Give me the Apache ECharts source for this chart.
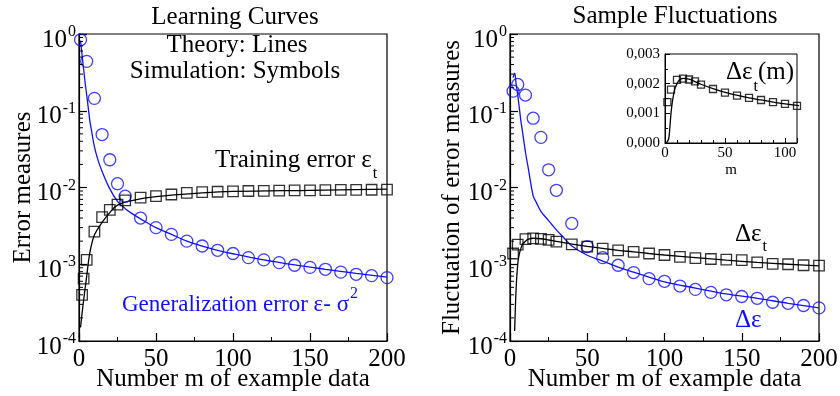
<!DOCTYPE html>
<html><head><meta charset="utf-8">
<script src="https://cdn.jsdelivr.net/npm/echarts@6/dist/echarts.min.js"></script>
<style>html,body{margin:0;padding:0;background:#fff}#c{width:840px;height:396px}</style>
</head><body><div id="c"></div>
<script>
// ---- Left panel: learning curves ----
const genM   = [1,5,10,15,20,25,30,40,50,60,70,80,90,100,110,120,130,140,150,160,170,180,190,200];
const genV   = [0.84,0.44,0.145,0.049,0.023,0.0112,0.0077,0.0040,0.0030,0.00245,0.0020,0.00173,0.00152,0.00138,0.00122,0.00114,0.00105,0.00097,0.00091,0.00086,0.00079,0.00074,0.00071,0.00067];
const trainM = [2,3,5,10,15,20,25,30,40,50,60,70,80,90,100,110,120,130,140,150,160,170,180,190,200];
const trainV = [0.00040,0.00065,0.00114,0.00266,0.0041,0.0051,0.0060,0.0068,0.0074,0.0077,0.0081,0.0085,0.0087,0.0088,0.0089,0.0090,0.00905,0.0091,0.00915,0.0092,0.00925,0.0093,0.0093,0.00935,0.0094];
const thGenM = [1,2,3,4,5,6,7,8,10,12,15,20,25,30,35,40,50,60,70,80,90,100,120,140,160,180,200];
const thGenV = [0.82,0.53,0.35,0.23,0.16,0.11,0.075,0.057,0.034,0.024,0.0162,0.0096,0.0066,0.0053,0.0045,0.0039,0.0030,0.00245,0.0020,0.00172,0.00152,0.00137,0.00114,0.00098,0.00086,0.00076,0.00068];
const thTrainM = [1,2,3,5,7,10,15,20,25,35,50,80,100,150,200];
const thTrainV = [0.00015,0.00023,0.00034,0.0007,0.0014,0.0024,0.0035,0.0047,0.0059,0.0068,0.0076,0.0085,0.0089,0.0092,0.0095];
// ---- Right panel: sample fluctuations ----
const dM  = [2,5,10,15,20,25,30,40,50,60,70,80,90,100,110,120,130,140,150,160,170,180,190,200];
const dV  = [0.18,0.22,0.16,0.080,0.045,0.017,0.0092,0.0034,0.0017,0.00122,0.00097,0.00078,0.00065,0.00060,0.00052,0.00047,0.00043,0.00040,0.00038,0.00036,0.00032,0.00031,0.00029,0.00027];
const dtM = [2,5,10,15,20,25,30,40,50,60,70,80,90,100,110,120,130,140,150,160,170,180,190,200];
const dtV = [0.00138,0.00180,0.00213,0.00217,0.00214,0.00208,0.00197,0.00182,0.00170,0.00160,0.00152,0.00145,0.00138,0.00132,0.00125,0.00120,0.00117,0.00115,0.00113,0.00106,0.00101,0.00100,0.00097,0.00096];
const thDM = [2,3,4,5,6,7,8,10,12,15,17,20,25,30,35,40,50,60,70,80,90,100,120,140,160,180,200];
const thDV = [0.27,0.31,0.22,0.16,0.11,0.075,0.055,0.029,0.017,0.0078,0.0064,0.0049,0.0037,0.0028,0.0022,0.00173,0.00131,0.00110,0.00092,0.00079,0.00068,0.00059,0.00049,0.00041,0.00036,0.00031,0.00027];
const thDtM = [1,3,4,5,6,7,8,10,12,15,20,25,30,40,50,60,70,80,90,100,120,140,160,180,200];
const thDtV = [0,0.000135,0.0005,0.00100,0.00135,0.0016,0.0018,0.0020,0.00212,0.00218,0.00215,0.00207,0.00198,0.00183,0.00171,0.00161,0.00152,0.00145,0.00138,0.00132,0.00122,0.00113,0.00106,0.00100,0.00095];
// ---- tick values ----
const logDecades = [1e-4,1e-3,1e-2,1e-1];
const logMinor = [];
logDecades.forEach(d=>{for(let k=2;k<=9;k++) logMinor.push(+(k*d).toPrecision(3));});

const FONT = 'Liberation Serif';
const FS = 25;
const BLUE = '#1010ff';
const pairs = (m,v,filterPos) => m.map((x,i)=>[x,v[i]]).filter(p=>!filterPos || p[1]>0);

function logLabel(v){
  const e = Math.round(Math.log10(v));
  return '{b|10}{s|' + e + '}';
}
const logRich = {
  b:{fontFamily:FONT,fontSize:FS,color:'#000',lineHeight:40,verticalAlign:'top',padding:[13.5,0,0,0]},
  s:{fontFamily:FONT,fontSize:16,color:'#000',lineHeight:40,verticalAlign:'top',padding:[10,0,0,1]}
};

function xAx(gi){
  return {type:'value',gridIndex:gi,min:0,max:200,interval:50,
    axisLine:{show:true,lineStyle:{color:'#000',width:1.2}},
    axisTick:{show:true,inside:true,length:8,lineStyle:{color:'#000',width:1.2}},
    minorTick:{show:true,splitNumber:2,length:4,lineStyle:{color:'#000',width:1}},
    splitLine:{show:false},
    axisLabel:{fontFamily:FONT,fontSize:FS,color:'#000',margin:6},
    name:'Number m of example data',nameLocation:'middle',nameGap:26,nameMoveOverlap:false,
    nameTextStyle:{fontFamily:FONT,fontSize:FS,color:'#000'}};
}
function yAx(gi,name,gap){
  return {type:'log',logBase:10,gridIndex:gi,min:1e-4,max:1,
    axisLine:{show:true,lineStyle:{color:'#000',width:1.2}},
    axisTick:{show:true,inside:true,length:8,lineStyle:{color:'#000',width:1.2}},
    splitLine:{show:false},
    axisLabel:{formatter:logLabel,rich:logRich,margin:3},
    name:name,nameLocation:'middle',nameGap:gap,nameMoveOverlap:false,
    nameTextStyle:{fontFamily:FONT,fontSize:FS,color:'#000'}};
}
function minorSeries(gi){
  return {type:'custom',xAxisIndex:gi,yAxisIndex:gi,silent:true,z:10,
    data:logMinor.map(v=>[0,v]),
    renderItem:function(params,api){
      const p = api.coord([0,api.value(1)]);
      return {type:'line',shape:{x1:p[0],y1:p[1],x2:p[0]+4,y2:p[1]},style:{stroke:'#000',lineWidth:1}};
    }};
}
function lineS(gi,data,color){
  return {type:'line',xAxisIndex:gi,yAxisIndex:gi,data:data,showSymbol:false,smooth:0.35,
    lineStyle:{color:color,width:1.3},silent:true,z:3};
}
function scat(gi,data,sym,size,color){
  return {type:'scatter',xAxisIndex:gi,yAxisIndex:gi,data:data,symbol:sym,symbolSize:size,
    itemStyle:{color:'rgba(0,0,0,0)',borderColor:color,borderWidth:1.3},silent:true,z:4};
}

const chart = echarts.init(document.getElementById('c'),null,{renderer:'canvas'});
const txt = (o)=>({type:'text',silent:true,z:100,style:Object.assign({fontFamily:FONT,fontSize:FS,fill:'#000'},o)});
// rich text helper: base token 'a', sub/superscript token 's', both top-aligned with explicit offsets
function richTxt(text,x,y,color,padA,padS,fsA){
  const fa = fsA || FS;
  return txt({text:text,x:x,y:y,textAlign:'left',textVerticalAlign:'top',fill:color,fontSize:fa,
    rich:{a:{fontFamily:FONT,fontSize:fa,lineHeight:48,verticalAlign:'top',padding:[padA,0,0,0],fill:color},
          s:{fontFamily:FONT,fontSize:16,lineHeight:48,verticalAlign:'top',padding:[padS,0,0,1],fill:color}}});
}

chart.setOption({
  animation:false,
  backgroundColor:'#fff',
  grid:[
    {left:79,top:34,width:308,height:307,outerBoundsMode:'none',containLabel:false,show:true,borderColor:'#000',borderWidth:1.2,backgroundColor:'transparent'},
    {left:510,top:34,width:309,height:307,outerBoundsMode:'none',containLabel:false,show:true,borderColor:'#000',borderWidth:1.2,backgroundColor:'transparent'},
    {left:665,top:54,width:132,height:89,outerBoundsMode:'none',containLabel:false,show:true,borderColor:'#000',borderWidth:1,backgroundColor:'#fff',z:20}
  ],
  xAxis:[xAx(0),xAx(1),
    {type:'value',gridIndex:2,min:0,max:110,interval:50,z:21,
     axisLine:{show:true,lineStyle:{color:'#000',width:1}},
     axisTick:{show:true,inside:true,length:5,lineStyle:{color:'#000'}},
     minorTick:{show:true,splitNumber:5,length:3,lineStyle:{color:'#000'}},
     splitLine:{show:false},
     axisLabel:{fontFamily:FONT,fontSize:15,color:'#000',margin:3},
     name:'m',nameLocation:'middle',nameGap:20,nameMoveOverlap:false,nameTextStyle:{fontFamily:FONT,fontSize:15,color:'#000'}}
  ],
  yAxis:[yAx(0,'Error measures',43),yAx(1,'Fluctuation of error measures',45),
    {type:'value',gridIndex:2,min:0,max:0.003,interval:0.001,z:21,
     axisLine:{show:true,lineStyle:{color:'#000',width:1}},
     axisTick:{show:true,inside:true,length:5,lineStyle:{color:'#000'}},
     minorTick:{show:true,splitNumber:2,length:3,lineStyle:{color:'#000'}},
     splitLine:{show:false},
     axisLabel:{fontFamily:FONT,fontSize:15,color:'#000',margin:5,
       formatter:v=>v.toFixed(3).replace('.',',')}}
  ],
  series:[
    minorSeries(0),minorSeries(1),
    lineS(0,pairs(thGenM,thGenV),BLUE),
    lineS(0,pairs(thTrainM,thTrainV),'#000'),
    scat(0,pairs(genM,genV),'circle',12,BLUE),
    scat(0,pairs(trainM,trainV),'rect',10.5,'#000'),
    lineS(1,pairs(thDM,thDV),BLUE),
    lineS(1,pairs(thDtM,thDtV,true),'#000'),
    scat(1,pairs(dM,dV),'circle',12,BLUE),
    scat(1,pairs(dtM,dtV),'rect',10.5,'#000'),
    Object.assign(lineS(2,pairs(thDtM,thDtV),'#000'),{z:22,clip:true}),
    Object.assign(scat(2,pairs(dtM,dtV).filter(p=>p[0]<=110),'rect',7,'#000'),{z:23})
  ],
  graphic:[
    txt({text:'Learning Curves',x:235,y:17.6,textAlign:'center',textVerticalAlign:'middle'}),
    txt({text:'Sample Fluctuations',x:675,y:16.6,textAlign:'center',textVerticalAlign:'middle'}),
    txt({text:'Theory: Lines',x:237,y:45.8,textAlign:'center',textVerticalAlign:'middle'}),
    txt({text:'Simulation: Symbols',x:235,y:71,textAlign:'center',textVerticalAlign:'middle'}),
    richTxt('{a|Training error ε}{s|t}',215,140,'#000',8.1,25.5),
    richTxt('{a|Generalization error ε- σ}{s|2}',122,275,BLUE,18.7,10.6,23),
    richTxt('{a|Δε}{s|t}',735,215,'#000',7.1,23.6),
    txt({text:'Δε',x:735,y:320,fill:BLUE,textAlign:'left',textVerticalAlign:'middle'}),
    richTxt('{a|Δε}{s|t}{a|(m)}',726,54,'#000',5.5,24.5)
  ]
});
</script></body></html>
